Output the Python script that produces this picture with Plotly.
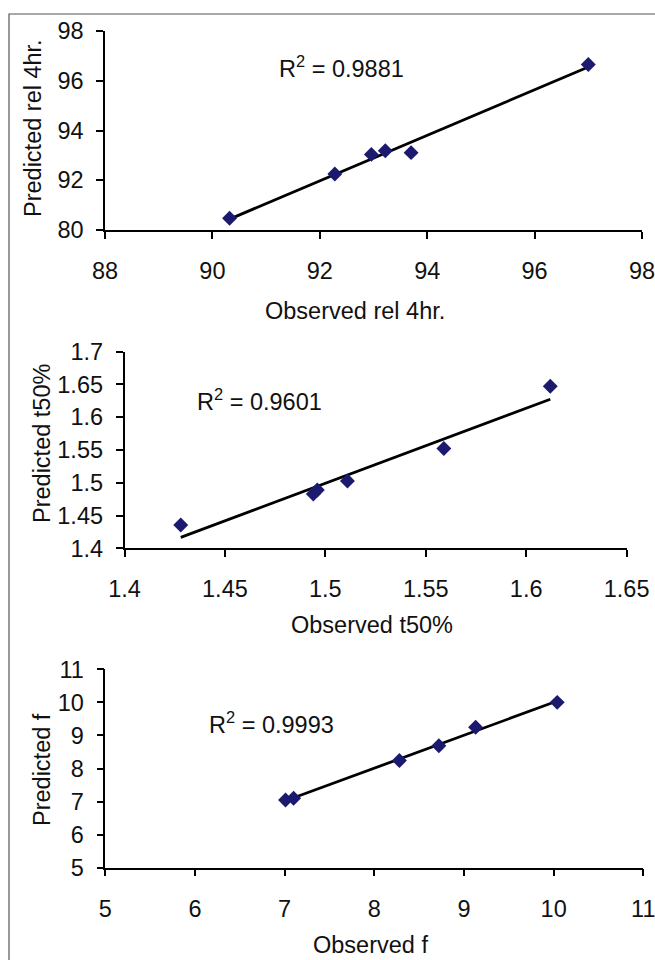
import numpy as np
import plotly.graph_objects as go

W, H = 655, 960

# ---- data ----
obs_rel = [90.32, 92.28, 92.96, 93.22, 93.70, 97.00]
pred_rel = [90.47, 92.25, 93.04, 93.19, 93.11, 96.65]
rel_yticks = [90, 92, 94, 96, 98]
rel_yticktext = ["80", "92", "94", "96", "98"]
rel_xticks = [88, 90, 92, 94, 96, 98]

obs_t50 = [1.428, 1.494, 1.496, 1.511, 1.559, 1.612]
pred_t50 = [1.4355, 1.483, 1.489, 1.5026, 1.5524, 1.6474]
t50_xticks = [1.4, 1.45, 1.5, 1.55, 1.6, 1.65]
t50_yticks = [1.4, 1.45, 1.5, 1.55, 1.6, 1.65, 1.7]

obs_f = [7.01, 7.10, 8.28, 8.72, 9.13, 10.04]
pred_f = [7.05, 7.10, 8.24, 8.69, 9.25, 10.00]
f_ticks = [5, 6, 7, 8, 9, 10, 11]

r2_labels = ["R<sup>2</sup> = 0.9881", "R<sup>2</sup> = 0.9601", "R<sup>2</sup> = 0.9993"]
x_titles = ["Observed rel 4hr.", "Observed t50%", "Observed f"]
y_titles = ["Predicted rel 4hr.", "Predicted t50%", "Predicted f"]

FONT = "Liberation Sans, Arial, sans-serif"
FS = 23.5
MARK = "#1c1a6e"

def px(x):
    return x / W

def py(y):
    return 1 - y / H

panels = [
    dict(x=obs_rel, y=pred_rel, dom_x=(105, 642), dom_y=(31, 230), xr=[88, 98], yr=[90, 98],
         xt=rel_xticks, xtt=[str(v) for v in rel_xticks], yt=rel_yticks, ytt=rel_yticktext,
         r2=(341, 67), xtitle=(355, 311), ytitle=(33, 128)),
    dict(x=obs_t50, y=pred_t50, dom_x=(124.5, 626.6), dom_y=(351.7, 548.3), xr=[1.4, 1.65], yr=[1.4, 1.7],
         xt=t50_xticks, xtt=[f"{v:g}" for v in t50_xticks], yt=t50_yticks, ytt=[f"{v:g}" for v in t50_yticks],
         r2=(259, 400), xtitle=(372, 625), ytitle=(42, 444)),
    dict(x=obs_f, y=pred_f, dom_x=(105.3, 643.3), dom_y=(669.3, 867.7), xr=[5, 11], yr=[5, 11],
         xt=f_ticks, xtt=[str(v) for v in f_ticks], yt=f_ticks, ytt=[str(v) for v in f_ticks],
         r2=(271, 723), xtitle=(370, 945), ytitle=(42, 770)),
]

fig = go.Figure()
annotations = []
for i, p in enumerate(panels):
    n = "" if i == 0 else str(i + 1)
    xa, ya = "x" + n, "y" + n
    xs = np.array(p["x"])
    ys = np.array(p["y"])
    m, b = np.polyfit(xs, ys, 1)
    lx = [float(xs.min()), float(xs.max())]
    ly = [m * v + b for v in lx]
    fig.add_trace(go.Scatter(x=lx, y=ly, mode="lines", line=dict(color="black", width=2.8),
                             xaxis=xa, yaxis=ya, showlegend=False, hoverinfo="skip"))
    fig.add_trace(go.Scatter(x=p["x"], y=p["y"], mode="markers",
                             marker=dict(symbol="diamond", size=11.5, color=MARK),
                             xaxis=xa, yaxis=ya, showlegend=False))
    common = dict(showgrid=False, zeroline=False, showline=True, linecolor="black", linewidth=1.5,
                  ticks="outside", ticklen=7, tickwidth=1.5, tickcolor="black", automargin=False,
                  ticklabeloverflow="allow",
                  tickfont=dict(family=FONT, size=FS, color="#111"))
    fig.layout["xaxis" + n] = dict(domain=[px(p["dom_x"][0]), px(p["dom_x"][1])], range=p["xr"],
                                   tickvals=p["xt"], ticktext=p["xtt"], anchor=ya,
                                   ticklabelstandoff=12, **common)
    fig.layout["yaxis" + n] = dict(domain=[py(p["dom_y"][1]), py(p["dom_y"][0])], range=p["yr"],
                                   tickvals=p["yt"], ticktext=p["ytt"], anchor=xa,
                                   ticklabelstandoff=8, **common)
    annotations.append(dict(text=r2_labels[i], x=px(p["r2"][0]), y=py(p["r2"][1]), xref="paper", yref="paper",
                            showarrow=False, xanchor="center", yanchor="middle",
                            font=dict(family=FONT, size=FS, color="#111")))
    annotations.append(dict(text=x_titles[i], x=px(p["xtitle"][0]), y=py(p["xtitle"][1]), xref="paper", yref="paper",
                            showarrow=False, xanchor="center", yanchor="middle",
                            font=dict(family=FONT, size=FS, color="#111")))
    annotations.append(dict(text=y_titles[i], x=px(p["ytitle"][0]), y=py(p["ytitle"][1]), xref="paper", yref="paper",
                            showarrow=False, xanchor="center", yanchor="middle", textangle=-90,
                            font=dict(family=FONT, size=FS, color="#111")))

fig.update_layout(
    template="none",
    width=W, height=H, margin=dict(l=0, r=0, t=0, b=0, autoexpand=False),
    paper_bgcolor="white", plot_bgcolor="white",
    annotations=annotations,
    shapes=[dict(type="rect", xref="paper", yref="paper", x0=px(9), x1=px(700), y0=py(1000), y1=py(14),
                 line=dict(color="#555", width=1.2), fillcolor="rgba(0,0,0,0)", layer="below")],
)

fig.write_html("out.html", config={"displayModeBar": False},
               post_script="document.body.style.margin='0';")
